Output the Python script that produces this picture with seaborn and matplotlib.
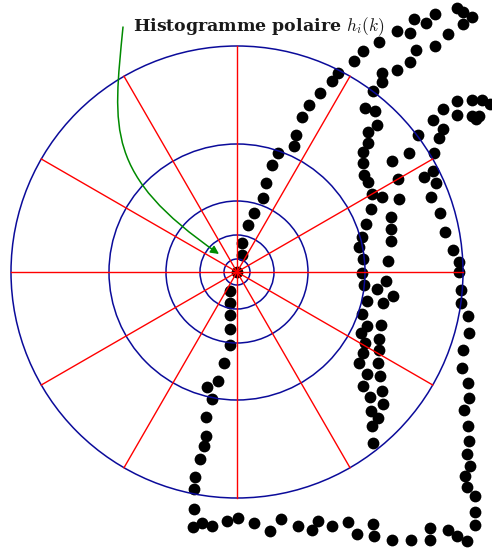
import numpy as np
import pandas as pd
import matplotlib
matplotlib.use("Agg")
import matplotlib.pyplot as plt
import seaborn as sns
from matplotlib.patches import Circle, FancyArrowPatch
from matplotlib.path import Path

# Contour points (pixel coordinates of the shape samples)
pts_x = [338, 332, 320, 309, 302, 296, 294, 278, 272, 266, 263, 254, 248, 242, 242, 237,
         230, 230, 230, 230, 230, 224, 218, 207, 212, 206, 206, 204, 200, 195, 194, 194, 193,
         202, 212, 227, 238, 254, 270, 281, 298, 312, 318, 332, 348, 357, 373, 374, 392, 411,
         430, 430, 448, 457, 467, 475, 475, 475, 467,
         465, 470, 467, 469, 468, 464, 469, 468, 462, 463, 469, 468, 461, 461, 459, 459, 453,
         445, 440, 431,
         436, 424, 433, 398, 434, 409, 392, 439, 418, 443, 433, 443, 457, 472, 482, 490, 457,
         472, 479, 476,
         372, 382, 399, 371, 391, 366, 391, 362, 391, 359, 363, 388, 362, 386, 364, 377, 393,
         367, 383, 362, 381, 367, 361, 379, 365, 379, 363, 359, 378, 367, 380, 363, 382, 370,
         383, 371, 378, 372, 373,
         365, 375, 377, 368, 368, 363, 363, 364, 368,
         457, 463, 472, 463, 435, 426, 414, 410, 397, 448, 435, 416, 410, 397, 382, 382, 373,
         379, 363, 354]
pts_y = [73, 81, 93, 105, 117, 135, 146, 153, 165, 183, 198, 213, 225, 243, 255, 272,
         291, 303, 315, 329, 345, 363, 381, 387, 399, 417, 436, 446, 459, 477, 489, 509, 527,
         523, 526, 521, 518, 523, 531, 519, 526, 530, 521, 526, 522, 534, 524, 536, 540, 540,
         528, 540, 530, 536, 541, 525, 512, 496, 487,
         476, 466, 454, 441, 426, 410, 398, 383, 368, 350, 333, 316, 303, 290, 272, 262, 250,
         232, 213, 197,
         183, 177, 171, 179, 153, 153, 161, 138, 135, 129, 120, 109, 101, 100, 100, 104, 115,
         116, 116, 119,
         194, 197, 199, 209, 217, 224, 229, 237, 241, 247, 259, 261, 273, 281, 285, 289, 296,
         301, 303, 314, 325, 326, 333, 339, 343, 350, 353, 363, 363, 374, 376, 386, 391, 397,
         404, 411, 418, 426, 443,
         108, 111, 125, 132, 143, 152, 163, 175, 182,
         8, 12, 17, 24, 14, 23, 19, 33, 31, 34, 46, 50, 62, 70, 73, 82, 91,
         42, 51, 61]

# Log-polar grid
center = (237, 272)
radii = [13, 37, 71, 128, 226]
angles = np.arange(0, 360, 30)

label = r"Histogramme polaire $h_i(k)$"

plt.rcParams['mathtext.fontset'] = 'cm'
fig = plt.figure(figsize=(4.92, 5.51), dpi=100)
ax = fig.add_axes([0, 0, 1, 1])
ax.set_xlim(0, 492)
ax.set_ylim(551, 0)
ax.set_aspect('equal')
ax.axis('off')

ax.text(133, 27, label, fontsize=12.5, family='DejaVu Serif', weight='bold',
        va='center', ha='left', color='#1a1a1a', zorder=1)

df = pd.DataFrame({'x': pts_x, 'y': pts_y})
sns.scatterplot(data=df, x='x', y='y', color='black', s=72, linewidth=0, ax=ax, zorder=2)

for r in radii:
    ax.add_patch(Circle(center, r, fill=False, edgecolor='#0b0b9a', lw=1.1, zorder=3))

for a in angles:
    t = np.deg2rad(a)
    ax.plot([center[0], center[0] + radii[-1] * np.cos(t)],
            [center[1], center[1] - radii[-1] * np.sin(t)],
            color='#ff0000', lw=1.0, zorder=4)

# green arrow pointing to the histogram centre
verts = [(123, 27), (113, 130), (105, 175), (219, 254)]
codes = [Path.MOVETO, Path.CURVE4, Path.CURVE4, Path.CURVE4]
arrow = FancyArrowPatch(path=Path(verts, codes), arrowstyle='-|>', mutation_scale=12,
                        color='#008a00', lw=1.1, zorder=5)
ax.add_patch(arrow)

fig.savefig('out.png', dpi=100)
